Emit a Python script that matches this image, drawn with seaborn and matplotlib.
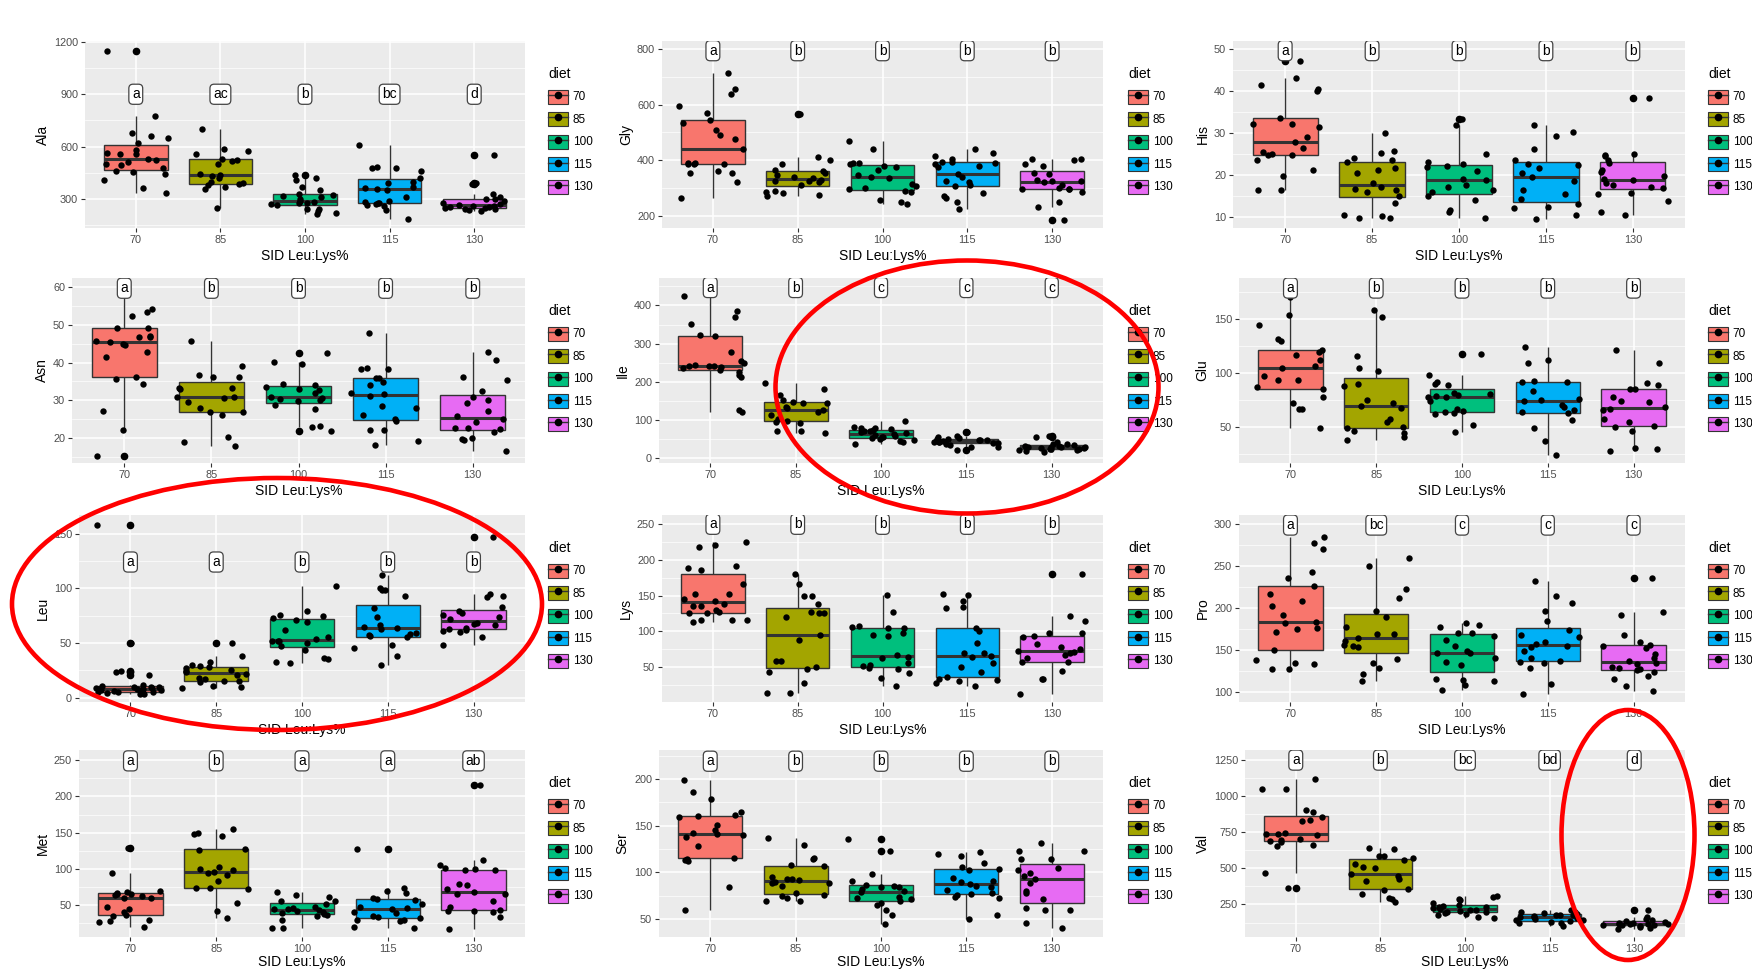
import matplotlib
matplotlib.use("Agg")
import matplotlib.pyplot as plt
from matplotlib.patches import Ellipse, Patch
from matplotlib.lines import Line2D
from matplotlib.ticker import MultipleLocator
import numpy as np
import pandas as pd
import seaborn as sns

np.random.seed(7)

diets = ["70", "85", "100", "115", "130"]
diet_colors = ["#F8766D", "#A3A500", "#00BF7D", "#00B0F6", "#E76BF3"]
xlabel = "SID Leu:Lys%"

# values per diet group (70, 85, 100, 115, 130)
ala = [
    [1150, 775, 680, 660, 650, 620, 580, 565, 560, 555, 530, 525, 510, 500, 495, 480, 460, 455, 445, 410, 365, 335],
    [700, 585, 575, 560, 530, 525, 520, 500, 445, 440, 430, 420, 400, 390, 385, 380, 370, 360, 250],
    [440, 420, 410, 370, 350, 330, 325, 320, 310, 300, 290, 285, 280, 275, 270, 265, 245, 245, 230, 220, 215],
    [610, 485, 480, 480, 460, 420, 400, 390, 370, 365, 360, 350, 310, 290, 285, 280, 275, 270, 265, 260, 235, 185],
    [550, 390, 385, 330, 310, 300, 300, 290, 280, 270, 265, 260, 260, 255, 255, 250, 250, 245, 240, 235, 230],
]
gly = [
    [715, 655, 640, 595, 570, 545, 535, 510, 490, 475, 440, 390, 390, 385, 385, 385, 360, 355, 355, 320, 265],
    [565, 410, 400, 385, 365, 360, 355, 345, 340, 335, 330, 325, 325, 320, 310, 290, 285, 280, 275, 270],
    [470, 440, 390, 390, 385, 380, 375, 365, 345, 340, 335, 315, 305, 300, 295, 290, 285, 255, 250, 240],
    [440, 425, 415, 405, 395, 395, 390, 385, 380, 375, 350, 340, 325, 320, 310, 305, 280, 270, 265, 250, 225],
    [405, 405, 400, 385, 380, 355, 350, 330, 325, 325, 320, 310, 300, 295, 295, 295, 285, 250, 230, 185],
]
his = [
    [47.3, 43.1, 41.4, 40.6, 40.1, 33.6, 32.3, 32.2, 31.6, 29.2, 28.0, 26.4, 25.6, 25.0, 24.8, 24.8, 23.5, 21.3, 19.9, 16.5, 16.5],
    [30.0, 25.7, 25.3, 24.1, 23.6, 23.1, 21.8, 21.3, 20.6, 18.1, 17.1, 16.8, 16.4, 16.1, 15.1, 13.4, 10.4, 10.2, 9.9, 9.7],
    [33.4, 32.0, 25.1, 23.2, 22.6, 22.3, 22.0, 21.0, 19.0, 18.8, 17.6, 17.2, 16.4, 16.0, 15.0, 14.1, 11.7, 11.3, 9.7],
    [32.0, 30.3, 29.3, 26.3, 23.7, 22.7, 22.5, 21.8, 20.4, 19.6, 18.5, 16.4, 15.6, 14.3, 13.1, 12.5, 12.1, 10.5, 9.5],
    [38.4, 25.0, 24.9, 24.6, 23.6, 22.9, 21.2, 20.7, 19.9, 19.0, 18.9, 18.2, 17.7, 17.2, 16.9, 15.7, 15.4, 13.8, 11.2, 10.5],
]
asn = [
    [58.3, 54.0, 53.4, 52.4, 49.1, 49.0, 47.0, 46.8, 46.8, 45.6, 45.5, 44.8, 44.5, 42.7, 41.5, 36.2, 35.6, 34.4, 27.1, 22.1, 15.3],
    [45.8, 39.2, 36.6, 36.2, 36.2, 33.4, 33.3, 33.0, 31.0, 30.8, 30.6, 29.7, 28.0, 27.0, 27.0, 26.1, 20.4, 19.0, 18.1],
    [42.6, 40.2, 39.6, 34.3, 34.2, 33.6, 33.0, 32.8, 32.0, 31.0, 30.7, 30.5, 30.0, 29.9, 28.7, 27.7, 23.2, 23.0, 21.9],
    [47.8, 38.5, 38.3, 38.3, 35.8, 35.8, 34.8, 34.1, 32.0, 31.6, 31.3, 28.6, 28.0, 26.2, 25.1, 24.5, 22.3, 22.1, 19.4, 18.3],
    [42.7, 40.8, 36.3, 35.4, 32.5, 31.0, 30.2, 29.2, 27.2, 25.9, 25.0, 24.4, 22.8, 22.8, 22.4, 21.6, 20.0, 19.7, 19.6, 16.6],
]
ile = [
    [425, 385, 370, 352, 322, 320, 278, 255, 250, 245, 242, 240, 240, 238, 235, 230, 225, 218, 212, 125, 120],
    [197, 182, 166, 152, 147, 145, 143, 135, 130, 125, 120, 112, 102, 98, 95, 92, 71, 70, 65],
    [96, 82, 80, 78, 75, 73, 72, 70, 68, 65, 63, 60, 58, 55, 54, 53, 51, 48, 45, 42, 38],
    [68, 58, 55, 52, 50, 50, 48, 47, 46, 45, 44, 43, 42, 42, 40, 40, 38, 35, 30, 28, 22],
    [57, 56, 42, 38, 36, 34, 32, 31, 30, 29, 28, 28, 27, 26, 25, 25, 24, 22, 20, 18, 15],
]
glu = [
    [170, 154, 145, 132, 130, 121, 120, 117, 112, 107, 105, 97, 94, 94, 87, 85, 78, 72, 67, 67, 49],
    [158, 152, 116, 105, 102, 90, 88, 75, 72, 70, 68, 58, 55, 50, 49, 47, 45, 41, 38],
    [118, 98, 92, 90, 89, 82, 81, 80, 79, 78, 78, 74, 67, 65, 64, 63, 62, 52, 46],
    [124, 112, 109, 93, 92, 92, 84, 76, 75, 74, 71, 69, 66, 64, 63, 57, 49, 37, 24],
    [121, 109, 91, 89, 85, 85, 78, 74, 73, 69, 67, 66, 58, 55, 51, 50, 47, 31, 30, 28],
]
leu = [
    [158, 50, 24, 23, 21, 12, 11, 10, 10, 10, 9, 9, 8, 8, 8, 7, 7, 7, 6, 6, 5, 5, 5, 4, 4, 3, 3],
    [50, 38, 33, 30, 29, 28, 27, 25, 24, 23, 22, 21, 18, 17, 15, 15, 14, 11, 10, 9],
    [102, 79, 76, 75, 73, 71, 69, 62, 55, 54, 52, 52, 52, 50, 47, 44, 36, 35, 33, 32],
    [112, 100, 98, 98, 93, 82, 74, 66, 65, 64, 63, 59, 58, 57, 56, 55, 48, 45, 38, 30],
    [147, 95, 93, 92, 83, 79, 77, 76, 74, 72, 68, 67, 66, 64, 63, 62, 61, 60, 55, 48],
]
lys = [
    [225, 221, 218, 192, 189, 186, 166, 153, 153, 145, 142, 139, 135, 135, 130, 127, 126, 126, 116, 116, 116, 113],
    [180, 167, 150, 149, 138, 127, 125, 125, 120, 95, 88, 58, 58, 50, 47, 43, 28, 13, 13],
    [151, 127, 107, 106, 104, 104, 97, 95, 94, 67, 64, 62, 55, 53, 51, 48, 47, 42, 35, 24],
    [153, 151, 143, 134, 133, 104, 100, 83, 70, 69, 66, 64, 55, 50, 43, 36, 33, 32, 30, 28, 23],
    [180, 121, 115, 98, 97, 94, 92, 82, 78, 75, 73, 71, 69, 67, 62, 57, 57, 45, 33, 33, 12],
]
pro = [
    [285, 278, 270, 243, 236, 226, 217, 209, 203, 192, 183, 182, 176, 175, 172, 150, 138, 134, 133, 127, 127],
    [260, 250, 223, 212, 196, 189, 177, 169, 169, 164, 161, 156, 155, 153, 139, 134, 129, 121, 113],
    [182, 180, 177, 170, 170, 167, 162, 155, 149, 147, 146, 141, 136, 132, 115, 114, 113, 108, 102],
    [232, 215, 206, 197, 185, 174, 168, 165, 160, 157, 155, 153, 149, 141, 137, 136, 134, 128, 109, 97],
    [236, 195, 192, 168, 160, 156, 155, 152, 145, 140, 137, 134, 133, 130, 128, 127, 126, 124, 119, 115, 107, 101],
]
met = [
    [129, 94, 70, 68, 67, 66, 65, 64, 62, 60, 60, 48, 44, 40, 37, 35, 29, 28, 27, 20],
    [155, 149, 148, 145, 128, 126, 103, 100, 99, 95, 94, 91, 83, 74, 73, 72, 53, 42, 32],
    [68, 64, 61, 55, 55, 52, 47, 46, 45, 44, 43, 42, 40, 39, 38, 37, 35, 30, 18, 18],
    [128, 73, 69, 67, 60, 58, 57, 52, 48, 46, 45, 40, 39, 35, 34, 32, 30, 29, 28, 20, 19],
    [216, 112, 105, 101, 100, 99, 99, 79, 78, 72, 68, 66, 65, 55, 48, 43, 42, 42, 40, 33, 17],
]
ser = [
    [199, 186, 179, 165, 162, 160, 159, 151, 145, 142, 141, 140, 138, 128, 116, 114, 113, 112, 84, 60],
    [137, 129, 116, 114, 108, 107, 95, 93, 93, 92, 90, 89, 89, 86, 78, 76, 75, 73, 70, 70],
    [136, 123, 98, 91, 87, 86, 85, 84, 82, 80, 79, 74, 73, 72, 70, 67, 65, 60, 54, 45],
    [122, 120, 118, 110, 106, 104, 103, 94, 91, 90, 88, 86, 84, 81, 78, 77, 76, 74, 73, 55, 50],
    [132, 123, 123, 114, 114, 105, 103, 99, 96, 93, 89, 80, 78, 72, 62, 60, 60, 46, 41],
]
val = [
    [1115, 1050, 1048, 905, 888, 855, 835, 830, 745, 740, 738, 730, 700, 695, 690, 680, 665, 655, 470, 365],
    [640, 635, 585, 585, 570, 555, 530, 510, 500, 460, 445, 425, 415, 360, 350, 325, 295, 290, 265],
    [310, 300, 290, 280, 260, 245, 240, 235, 230, 225, 220, 215, 210, 205, 200, 195, 190, 185, 180, 160, 155],
    [215, 200, 195, 190, 185, 180, 180, 175, 170, 165, 160, 155, 150, 145, 140, 135, 130, 125, 120, 100],
    [215, 160, 150, 140, 135, 130, 125, 120, 118, 115, 115, 112, 110, 108, 105, 100, 95, 90, 80],
]

# significance letters
ala_letters = ["a", "ac", "b", "bc", "d"]
gly_letters = ["a", "b", "b", "b", "b"]
his_letters = ["a", "b", "b", "b", "b"]
asn_letters = ["a", "b", "b", "b", "b"]
ile_letters = ["a", "b", "c", "c", "c"]
glu_letters = ["a", "b", "b", "b", "b"]
leu_letters = ["a", "a", "b", "b", "b"]
lys_letters = ["a", "b", "b", "b", "b"]
pro_letters = ["a", "bc", "c", "c", "c"]
met_letters = ["a", "b", "a", "a", "ab"]
ser_letters = ["a", "b", "b", "b", "b"]
val_letters = ["a", "b", "bc", "bd", "d"]

panels = [
    ("Ala", ala, ala_letters), ("Gly", gly, gly_letters), ("His", his, his_letters),
    ("Asn", asn, asn_letters), ("Ile", ile, ile_letters), ("Glu", glu, glu_letters),
    ("Leu", leu, leu_letters), ("Lys", lys, lys_letters), ("Pro", pro, pro_letters),
    ("Met", met, met_letters), ("Ser", ser, ser_letters), ("Val", val, val_letters),
]

# layout: (left, right, top, bottom) in px, ylim, tick step, letter height
W, H = 1752, 969
layout = {
    "Ala": ((85, 525, 41, 228), (134, 1205), 300, 900),
    "Gly": ((662, 1103, 41, 228), (155, 830), 200, 795),
    "His": ((1233, 1685, 41, 228), (7.4, 52), 10, 49.7),
    "Asn": ((72, 525, 278, 463), (13.5, 62.3), 10, 59.6),
    "Ile": ((659, 1103, 278, 463), (-13, 472), 100, 447),
    "Glu": ((1239, 1685, 278, 463), (17, 188), 50, 178.7),
    "Leu": ((79, 525, 515, 702), (-4, 167), 50, 124),
    "Lys": ((662, 1103, 515, 702), (1, 263), 50, 250),
    "Pro": ((1239, 1685, 515, 702), (88, 311), 50, 299),
    "Met": ((79, 525, 750, 937), (6, 264), 50, 249),
    "Ser": ((659, 1103, 750, 937), (31, 231), 50, 219),
    "Val": ((1245, 1685, 750, 937), (25, 1319), 250, 1249),
}
legend_x = {85: 548, 72: 548, 79: 548, 662: 1128, 659: 1128, 1233: 1708, 1239: 1708, 1245: 1708}

plt.rcParams["font.family"] = ["Liberation Sans", "DejaVu Sans"]

fig = plt.figure(figsize=(W / 100, H / 100), dpi=100)
fig.patch.set_facecolor("white")

legend_handles = [
    (Patch(facecolor=c, edgecolor="#333333", linewidth=0.8),
     Line2D([], [], color="#333333", lw=1, marker="o", markersize=4.5,
            markerfacecolor="black", markeredgecolor="black"))
    for c in diet_colors
]

for name, groups, letters in panels:
    (l, r, t, b), ylim, step, letter_y = layout[name]
    ax = fig.add_axes([l / W, 1 - b / H, (r - l) / W, (b - t) / H])

    df = pd.DataFrame({
        "diet": np.repeat(diets, [len(g) for g in groups]),
        "value": np.concatenate(groups),
    })

    sns.boxplot(
        data=df, x="diet", y="value", hue="diet", order=diets, hue_order=diets,
        palette=diet_colors, saturation=1, width=0.75, linecolor="#333333", linewidth=1,
        showcaps=False, legend=False, ax=ax,
        flierprops=dict(marker="o", markerfacecolor="black", markeredgecolor="black", markersize=4.5),
        medianprops=dict(color="#333333", linewidth=2.2),
    )
    sns.stripplot(
        data=df, x="diet", y="value", order=diets, color="black", size=4.6,
        jitter=0.4, linewidth=0, ax=ax, zorder=3,
    )

    for i, letter in enumerate(letters):
        ax.text(i, letter_y, letter, ha="center", va="center", fontsize=10, color="black",
                bbox=dict(boxstyle="round,pad=0.22,rounding_size=0.3", fc="white", ec="#444444", lw=0.9),
                zorder=6, clip_on=True)

    ax.set_xlim(-0.6, 4.6)
    ax.set_ylim(*ylim)
    ax.yaxis.set_major_locator(MultipleLocator(step))
    ax.yaxis.set_minor_locator(MultipleLocator(step / 2))
    ax.set_facecolor("#EBEBEB")
    ax.set_axisbelow(True)
    ax.grid(which="major", axis="both", color="white", linewidth=1.1)
    ax.grid(which="minor", axis="y", color="white", linewidth=0.5)
    for s in ax.spines.values():
        s.set_visible(False)
    ax.tick_params(which="major", length=3, color="#333333", labelcolor="#4D4D4D", labelsize=7.8, pad=2)
    ax.tick_params(which="minor", length=0)
    ax.set_xlabel(xlabel, fontsize=10, labelpad=3 if b < 900 else 1)
    ax.set_ylabel(name, fontsize=10, labelpad=3)

    lx = legend_x[l]
    ax.legend(
        legend_handles, diets, title="diet", loc="upper left",
        bbox_to_anchor=(lx / W, 1 - (t + 26) / H), bbox_transform=fig.transFigure,
        frameon=False, fontsize=8.5, title_fontsize=10, handlelength=1.7,
        handleheight=1.45, labelspacing=0.72, handletextpad=0.4,
        borderpad=0, borderaxespad=0, alignment="left",
    )

# red ellipses drawn over the figure
for cx, cy, w, h in [(967, 387, 383, 253), (277, 604, 530, 252), (1628, 835, 133, 250)]:
    fig.add_artist(Ellipse((cx / W, 1 - cy / H), w / W, h / H, transform=fig.transFigure,
                           fill=False, edgecolor="red", linewidth=3.3, zorder=10))

fig.savefig("out.png", dpi=100)
